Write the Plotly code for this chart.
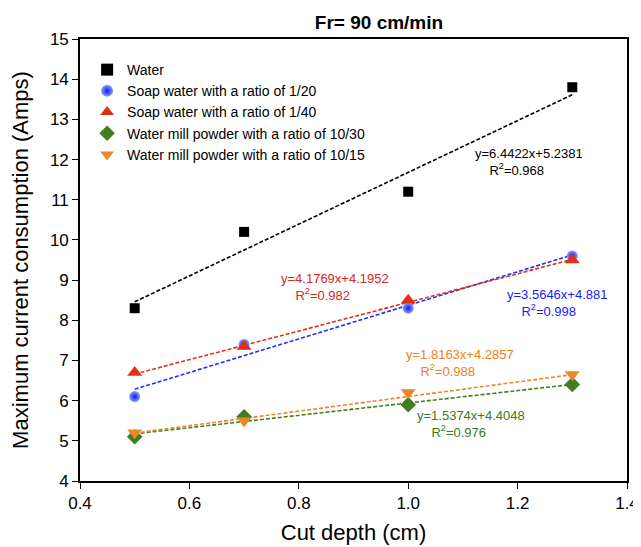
import plotly.graph_objects as go

depth = [0.5, 0.7, 1.0, 1.3]
series_names = [
    "Water",
    "Soap water with a ratio of 1/20",
    "Soap water with a ratio of 1/40",
    "Water mill powder with a ratio of 10/30",
    "Water mill powder with a ratio of 10/15",
]
water = [8.3, 10.2, 11.2, 13.8]
soap_20 = [6.1, 7.4, 8.3, 9.6]
soap_40 = [6.7, 7.35, 8.5, 9.5]
mill_30 = [5.1, 5.6, 5.9, 6.4]
mill_15 = [5.2, 5.5, 6.2, 6.65]

# linear fit coefficients (slope, intercept) for the dashed trend line of each series
fit_slope = [6.4422, 4.1769, 3.5646, 1.5374, 1.8163]
fit_intercept = [5.2381, 4.1952, 4.881, 4.4048, 4.2857]

eq_texts = [
    "y=6.4422x+5.2381<br>    R<sup>2</sup>=0.968",
    "y=4.1769x+4.1952<br>    R<sup>2</sup>=0.982",
    "y=3.5646x+4.881<br>    R<sup>2</sup>=0.998",
    "y=1.5374x+4.4048<br>    R<sup>2</sup>=0.976",
    "y=1.8163x+4.2857<br>    R<sup>2</sup>=0.988",
]
eq_pos = [(1.118, 11.93), (0.764, 8.83), (1.177, 8.42), (1.012, 5.42), (0.992, 6.94)]
eq_colors = ["#000000", "#d8281c", "#1a1aff", "#3d7a1a", "#e8821e"]

colors = ["#000000", "#1f2fff", "#e0301a", "#3f7f1f", "#e8882a"]
symbols = ["square", "circle", "triangle-up", "diamond", "triangle-down"]
sizes = [10, 11, 13, 12, 13]
values = [water, soap_20, soap_40, mill_30, mill_15]

fig = go.Figure()

x0, x1 = depth[0], depth[-1]
for i in range(5):
    s, b = fit_slope[i], fit_intercept[i]
    fig.add_trace(go.Scatter(
        x=[x0, x1], y=[s * x0 + b, s * x1 + b], mode="lines",
        line=dict(color=colors[i], width=1.6, dash="4px,2px"),
        showlegend=False, hoverinfo="skip"))

for i in range(5):
    marker = dict(symbol=symbols[i], size=sizes[i], color=colors[i], line=dict(width=0))
    if i == 1:
        marker = dict(symbol=symbols[i], size=sizes[i], color="#8da0ff",
                      gradient=dict(type="radial", color="#0a1ae8"), line=dict(width=0))
    fig.add_trace(go.Scatter(x=depth, y=values[i], mode="markers",
                             name=series_names[i], marker=marker))

for (tx, ty), t, c in zip(eq_pos, eq_texts, eq_colors):
    fig.add_annotation(x=tx, y=ty, text=t, showarrow=False, align="left",
                       xanchor="left", yanchor="middle",
                       font=dict(size=13, color=c, family="Liberation Sans"))

W, H = 633, 539
fig.update_layout(
    width=W, height=H,
    margin=dict(l=72, r=14, t=31, b=66),
    paper_bgcolor="white", plot_bgcolor="white",
    font=dict(family="Liberation Sans", color="#000000"),
    title=dict(text="<b>Fr= 90 cm/min</b>", x=371 / W, xanchor="center",
               y=1 - 14 / H, yanchor="middle", font=dict(size=19)),
    legend=dict(x=0.013, y=0.966, xanchor="left", yanchor="top",
                bgcolor="rgba(0,0,0,0)", font=dict(size=14),
                itemsizing="constant", tracegroupgap=0),
    showlegend=True,
)
fig.update_xaxes(range=[0.4, 1.4], dtick=0.2, tick0=0.4, tickformat=".1f",
                 showgrid=False, zeroline=False, showline=True, linecolor="black",
                 linewidth=1.6, mirror=True, ticks="outside", ticklen=6,
                 tickcolor="black", tickwidth=1.4, tickfont=dict(size=17),
                 automargin=False,
                 title=dict(text="Cut depth (cm)", font=dict(size=22), standoff=12))
fig.update_yaxes(range=[4, 15], dtick=1, showgrid=False, zeroline=False,
                 showline=True, linecolor="black", linewidth=1.6, mirror=True,
                 ticks="outside", ticklen=6, tickcolor="black", tickwidth=1.4,
                 tickfont=dict(size=17), automargin=False,
                 title=dict(text="Maximum current consumption (Amps)",
                            font=dict(size=22), standoff=23))

fig.write_html("out.html")
